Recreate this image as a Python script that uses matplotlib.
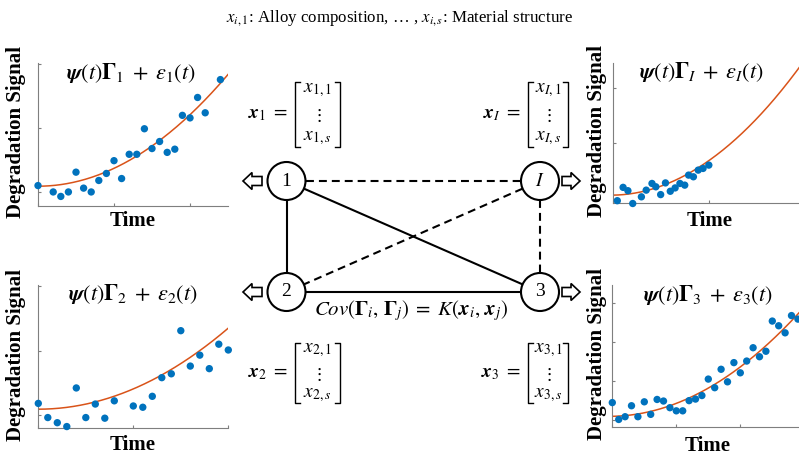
import numpy as np
import matplotlib
matplotlib.use("Agg")
import matplotlib.pyplot as plt
from matplotlib.patches import Circle, FancyArrow

plt.rcParams["font.family"] = ["Liberation Serif", "DejaVu Serif"]
plt.rcParams["mathtext.fontset"] = "stix"

BLUE = "#0072BD"
ORANGE = "#D95319"
AXIS_GRAY = "#7f7f7f"

# degradation paths for units 1, I, 2, 3: observed points and fitted quadratic (c0, c1, c2)
t_1 = [0, 0.2, 0.3, 0.4, 0.5, 0.6, 0.7, 0.8, 0.9, 1.0, 1.1, 1.2, 1.3, 1.4,
       1.5, 1.6, 1.7, 1.8, 1.9, 2.0, 2.1, 2.2, 2.4]
y_1 = [0.10, 0.0, -0.07, 0.0, 0.31, 0.06, 0.0, 0.18, 0.29, 0.49, 0.21, 0.59,
       0.59, 0.99, 0.68, 0.79, 0.62, 0.67, 1.20, 1.16, 1.48, 1.24, 1.76]
fit_1 = [0.09, 0.0, 0.28]

t_I = [0.05, 0.11, 0.16, 0.21, 0.30, 0.35, 0.41, 0.45, 0.50, 0.55, 0.60, 0.65,
       0.70, 0.75, 0.79, 0.84, 0.89, 0.94, 1.0]
y_I = [-0.03, 0.21, 0.15, -0.08, 0.04, 0.16, 0.28, 0.22, 0.08, 0.29, 0.14,
       0.20, 0.28, 0.25, 0.43, 0.40, 0.52, 0.55, 0.61]
fit_I = [0.07, 0.02, 0.60]

t_2 = [0, 0.1, 0.2, 0.3, 0.4, 0.5, 0.6, 0.7, 0.8, 1.0, 1.1, 1.2, 1.3, 1.4,
       1.5, 1.6, 1.7, 1.8, 1.9, 2.0]
y_2 = [0.18, -0.04, -0.12, -0.18, 0.42, -0.04, 0.17, -0.05, 0.22, 0.14, 0.12,
       0.29, 0.58, 0.64, 1.31, 0.76, 0.93, 0.72, 1.10, 1.01]
fit_2 = [0.09, 0.0, 0.315]

t_3 = [0.0, 0.1, 0.2, 0.3, 0.4, 0.5, 0.6, 0.7, 0.8, 0.9, 1.0, 1.1, 1.2, 1.3,
       1.4, 1.5, 1.6, 1.7, 1.8, 1.9, 2.0, 2.1, 2.2, 2.3, 2.4, 2.5, 2.6, 2.7,
       2.8, 2.9]
y_3 = [0.45, 0.02, 0.09, 0.37, 0.09, 0.47, 0.15, 0.53, 0.49, 0.32, 0.24, 0.24,
       0.50, 0.54, 0.63, 1.05, 0.83, 1.30, 0.98, 1.47, 1.21, 1.51, 1.85, 1.62,
       1.76, 2.53, 2.41, 2.23, 2.67, 2.58]
fit_3 = [0.10, 0.03, 0.30]

titles = [r"$\mathbfit{\psi}(t)\mathbf{\Gamma}_1 \;+\; \varepsilon_1(t)$",
          r"$\mathbfit{\psi}(t)\mathbf{\Gamma}_I \;+\; \varepsilon_I(t)$",
          r"$\mathbfit{\psi}(t)\mathbf{\Gamma}_2 \;+\; \varepsilon_2(t)$",
          r"$\mathbfit{\psi}(t)\mathbf{\Gamma}_3 \;+\; \varepsilon_3(t)$"]

W, H = 799, 458
fig = plt.figure(figsize=(W / 100, H / 100), dpi=100)


def box(left, top, right, bottom):
    return [left / W, 1 - bottom / H, (right - left) / W, (bottom - top) / H]


# (t, y, fit, title, pixel box, xlim, ylim, title xy, xlabel xy, ylabel x)
panels = [
    (t_1, y_1, fit_1, titles[0], (38, 63, 228, 206), (0, 2.5), (-0.22, 2.02),
     (131, 73), (133, 221), 16.5),
    (t_I, y_I, fit_I, titles[1], (612.5, 62.7, 853.3, 203.5), (0, 2.5), (-0.08, 2.45),
     (701.5, 72), (710, 221), 597),
    (t_2, y_2, fit_2, titles[2], (38.3, 285, 228.3, 428.3), (0, 2.0), (-0.207, 2.02),
     (132.5, 293.5), (133, 445), 16.5),
    (t_3, y_3, fit_3, titles[3], (612.3, 285, 836.3, 427.3), (0, 3.5), (-0.18, 3.45),
     (707.5, 295), (708, 446), 597),
]

axes = []
for t, y, fit, title, pbox, xlim, ylim, title_xy, xlab_xy, ylab_x in panels:
    ax = fig.add_axes(box(*pbox))
    tt = np.linspace(xlim[0], xlim[1], 300)
    ax.plot(tt, np.polyval(fit[::-1], tt), color=ORANGE, lw=1.1, zorder=2)
    ax.scatter(t, y, s=28, color=BLUE, edgecolors="none", zorder=3, clip_on=False)
    ax.set_xlim(*xlim)
    ax.set_ylim(*ylim)
    ax.set_xticks(np.arange(0, xlim[1] + 0.01, 1))
    ax.set_yticks(np.arange(0, ylim[1] + 0.01, 1))
    ax.tick_params(labelbottom=False, labelleft=False, direction="in",
                   length=2.5, width=0.8, color=AXIS_GRAY)
    for side in ("top", "right"):
        ax.spines[side].set_visible(False)
    for side in ("left", "bottom"):
        ax.spines[side].set_color(AXIS_GRAY)
        ax.spines[side].set_linewidth(0.8)
    axes.append((ax, title, title_xy, xlab_xy, ylab_x, pbox))

# drawing board in pixel coordinates for the graph and annotations
board = fig.add_axes([0, 0, 1, 1])
board.set_xlim(0, W)
board.set_ylim(H, 0)
board.axis("off")

for ax, title, title_xy, xlab_xy, ylab_x, pbox in axes:
    board.text(*title_xy, title, fontsize=16, ha="center", va="center")
    board.text(*xlab_xy, "Time", fontsize=15, fontweight="bold", ha="center", va="center")
    board.text(ylab_x, (pbox[1] + pbox[3]) / 2 - 2, "Degradation Signal", fontsize=15,
               fontweight="bold", rotation=90, ha="center", va="center")

board.text(400, 18, r"$x_{i,1}$: Alloy composition, … , $x_{i,s}$: Material structure",
           fontsize=12.2, ha="center", va="center")

# units as nodes of the covariance graph
node_xy = {"1": (286.5, 181), "I": (540, 181), "2": (286.5, 292), "3": (540, 292)}
radius = 19
solid_edges = [("1", "2"), ("1", "3"), ("2", "3")]
dashed_edges = [("1", "I"), ("I", "2"), ("I", "3")]

for edges, style in ((solid_edges, "-"), (dashed_edges, (0, (3.8, 2.4)))):
    for a, b in edges:
        p, q = np.array(node_xy[a]), np.array(node_xy[b])
        u = (q - p) / np.hypot(*(q - p))
        p, q = p + u * radius, q - u * radius
        board.plot([p[0], q[0]], [p[1], q[1]], color="black", lw=1.5, linestyle=style)

for name, (cx, cy) in node_xy.items():
    board.add_patch(Circle((cx, cy), radius, fc="white", ec="black", lw=1.5, zorder=3))
    board.text(cx, cy, f"${name}$" if name == "I" else name, fontsize=14,
               ha="center", va="center", zorder=4)

# hollow arrows pointing to each unit's degradation plot
for name, tail, dx in (("1", 262, -19), ("2", 262, -19), ("I", 562, 18), ("3", 562, 18)):
    board.add_patch(FancyArrow(tail, node_xy[name][1], dx, 0, width=9, head_width=17,
                               head_length=9, length_includes_head=True,
                               fc="white", ec="black", lw=1.2, zorder=3))

board.text(411, 311, r"$\mathit{Cov}(\mathbf{\Gamma}_i,\, \mathbf{\Gamma}_j) \;=\; "
           r"K(\mathbfit{x}_i,\, \mathbfit{x}_j)$", fontsize=15, ha="center", va="center")


# covariate vectors
def covariate_vector(sub, left, top, bottom, right):
    mid = (top + bottom) / 2
    board.text(left - 7, mid, rf"$\mathbfit{{x}}_{{{sub}}} \;=$", fontsize=14,
               ha="right", va="center")
    serif = 5
    board.plot([left + serif, left, left, left + serif], [top, top, bottom, bottom],
               color="black", lw=1.0)
    board.plot([right - serif, right, right, right - serif], [top, top, bottom, bottom],
               color="black", lw=1.0)
    cx = (left + right) / 2
    h = bottom - top
    board.text(cx, top + 0.12 * h, rf"$x_{{{sub},1}}$", fontsize=14, ha="center", va="center")
    board.text(cx, top + 0.52 * h, r"$\vdots$", fontsize=13, ha="center", va="center")
    board.text(cx, top + 0.86 * h, rf"$x_{{{sub},s}}$", fontsize=14, ha="center", va="center")


covariate_vector("1", 295, 82, 147, 340)
covariate_vector("I", 527.7, 82, 147, 568.3)
covariate_vector("2", 295, 343, 403, 340)
covariate_vector("3", 527.7, 343, 403, 568.3)

fig.savefig("out.png", dpi=100)
